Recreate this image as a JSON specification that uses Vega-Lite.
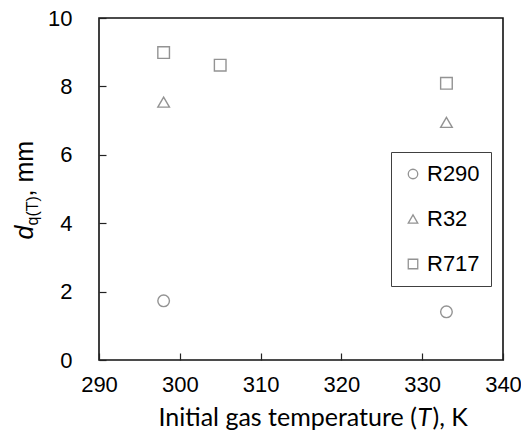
{
  "$schema": "https://vega.github.io/schema/vega-lite/v6.json",
  "width": 404,
  "height": 342,
  "autosize": {"type": "none"},
  "padding": {"left": 99, "top": 18, "right": 18, "bottom": 77},
  "background": "white",
  "config": {
    "view": {"stroke": "#111111", "strokeWidth": 1.6},
    "axis": {"grid": false, "domain": false, "labelColor": "#000000", "titleColor": "#000000"}
  },
  "data": {
    "values": [
      {"gas": "R290", "T": 298, "d": 1.73},
      {"gas": "R290", "T": 333, "d": 1.41},
      {"gas": "R32", "T": 298, "d": 7.54},
      {"gas": "R32", "T": 333, "d": 6.95},
      {"gas": "R717", "T": 298, "d": 8.99},
      {"gas": "R717", "T": 305, "d": 8.62},
      {"gas": "R717", "T": 333, "d": 8.09}
    ]
  },
  "resolve": {"axis": {"x": "independent", "y": "independent"}},
  "layer": [
    {
      "mark": {"type": "point", "filled": false, "color": "#666666", "strokeWidth": 1.4, "size": 135},
      "encoding": {
        "x": {
          "field": "T", "type": "quantitative",
          "scale": {"domain": [290, 340], "nice": false, "zero": false},
          "axis": {
            "orient": "bottom", "values": [290, 300, 310, 320, 330, 340],
            "labelFont": "Liberation Sans", "labelFontSize": 22, "labelFlush": false,
            "ticks": true, "tickSize": -7, "tickColor": "#222222", "tickWidth": 1.2, "labelPadding": 21,
            "title": "Initial gas temperature (", "titleFont": "Lato", "titleFontSize": 25, "titleFontWeight": "normal",
            "titleAlign": "left", "titleBaseline": "alphabetic", "titleAnchor": "start", "titleX": 59, "titleY": 65
          }
        },
        "y": {
          "field": "d", "type": "quantitative",
          "scale": {"domain": [0, 10], "nice": false},
          "axis": {
            "orient": "left", "values": [0, 2, 4, 6, 8, 10],
            "labelFont": "Liberation Sans", "labelFontSize": 22,
            "ticks": true, "tickSize": -7, "tickColor": "#222222", "tickWidth": 1.2, "labelPadding": 34,
            "title": "d", "titleFont": "Liberation Sans", "titleFontSize": 25, "titleFontStyle": "italic", "titleFontWeight": "normal",
            "titleAngle": -90, "titleAlign": "left", "titleBaseline": "alphabetic", "titleX": -67, "titleY": 221
          }
        },
        "shape": {
          "field": "gas", "type": "nominal",
          "scale": {"domain": ["R290", "R32", "R717"], "range": ["circle", "triangle-up", "square"]},
          "legend": {
            "orient": "none", "legendX": 292, "legendY": 134, "title": null,
            "strokeColor": "#404040", "fillColor": "white", "padding": 11,
            "labelFont": "Liberation Sans", "labelFontSize": 22, "labelColor": "#000000",
            "symbolSize": 90, "symbolStrokeColor": "#666666", "symbolStrokeWidth": 1.3,
            "rowPadding": 23, "labelOffset": 3
          }
        }
      }
    },
    {
      "mark": {"type": "point", "opacity": 0},
      "encoding": {
        "x": {
          "field": "T", "type": "quantitative",
          "scale": {"domain": [290, 340], "nice": false, "zero": false},
          "axis": {
            "orient": "bottom", "labels": false, "ticks": false, "domain": false,
            "title": "T", "titleFont": "Lato", "titleFontSize": 25, "titleFontStyle": "italic", "titleFontWeight": "normal",
            "titleAlign": "left", "titleBaseline": "alphabetic", "titleAnchor": "start", "titleX": 318, "titleY": 65
          }
        },
        "y": {
          "field": "d", "type": "quantitative",
          "scale": {"domain": [0, 10], "nice": false},
          "axis": {
            "orient": "left", "labels": false, "ticks": false, "domain": false,
            "title": "q(T)", "titleFont": "Liberation Sans", "titleFontSize": 16, "titleFontWeight": "normal",
            "titleAngle": -90, "titleAlign": "left", "titleBaseline": "alphabetic", "titleX": -62, "titleY": 207
          }
        }
      }
    },
    {
      "mark": {"type": "point", "opacity": 0},
      "encoding": {
        "x": {
          "field": "T", "type": "quantitative",
          "scale": {"domain": [290, 340], "nice": false, "zero": false},
          "axis": {
            "orient": "bottom", "labels": false, "ticks": false, "domain": false,
            "title": "), K", "titleFont": "Lato", "titleFontSize": 25, "titleFontWeight": "normal",
            "titleAlign": "left", "titleBaseline": "alphabetic", "titleAnchor": "start", "titleX": 333, "titleY": 65
          }
        },
        "y": {
          "field": "d", "type": "quantitative",
          "scale": {"domain": [0, 10], "nice": false},
          "axis": {
            "orient": "left", "labels": false, "ticks": false, "domain": false,
            "title": ", mm", "titleFont": "Liberation Sans", "titleFontSize": 25, "titleFontWeight": "normal",
            "titleAngle": -90, "titleAlign": "left", "titleBaseline": "alphabetic", "titleX": -67, "titleY": 178
          }
        }
      }
    }
  ]
}
